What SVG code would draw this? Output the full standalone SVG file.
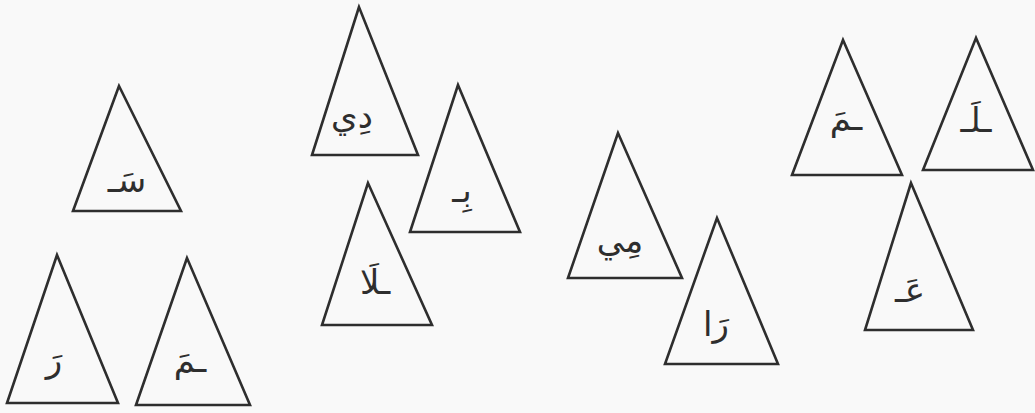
<svg xmlns="http://www.w3.org/2000/svg" width="1035" height="413" viewBox="0 0 1035 413">
<style>
.tri{fill:none;stroke:#2e2e2e;stroke-width:2.6;stroke-linejoin:miter}
.lbl{font-family:"DejaVu Sans",sans-serif;font-size:34px;fill:#2e2e2e;text-anchor:middle}
</style>
<rect width="1035" height="413" fill="#f9f9f9"/>
<g id="t1"><polygon class="tri" points="119,86 73,211 181,211"/><text class="lbl" x="127" y="192">سَـ</text></g>
<g id="t2"><polygon class="tri" points="57,255 7,403 118,403"/><text class="lbl" x="54" y="372">رَ</text></g>
<g id="t3"><polygon class="tri" points="187,258 136,405 250,405"/><text class="lbl" x="190" y="372">ـمَ</text></g>
<g id="t4"><polygon class="tri" points="359,7 312,155 418,155"/><text class="lbl" x="352" y="128">دِي</text></g>
<g id="t5"><polygon class="tri" points="458,85 410,232 520,232"/><text class="lbl" x="462" y="202">بِـ</text></g>
<g id="t6"><polygon class="tri" points="368,183 322,325 432,325"/><text class="lbl" x="375" y="294">ـلَا</text></g>
<g id="t7"><polygon class="tri" points="618,133 568,278 682,278"/><text class="lbl" x="620" y="252">مِي</text></g>
<g id="t8"><polygon class="tri" points="717,218 665,364 778,364"/><text class="lbl" x="716" y="336">رَا</text></g>
<g id="t9"><polygon class="tri" points="843,40 792,175 902,175"/><text class="lbl" x="846" y="130">ـمَ</text></g>
<g id="t10"><polygon class="tri" points="976,38 923,170 1033,170"/><text class="lbl" x="976" y="132">ـلَـ</text></g>
<g id="t11"><polygon class="tri" points="911,183 865,330 973,330"/><text class="lbl" x="910" y="302">عَـ</text></g>
</svg>
